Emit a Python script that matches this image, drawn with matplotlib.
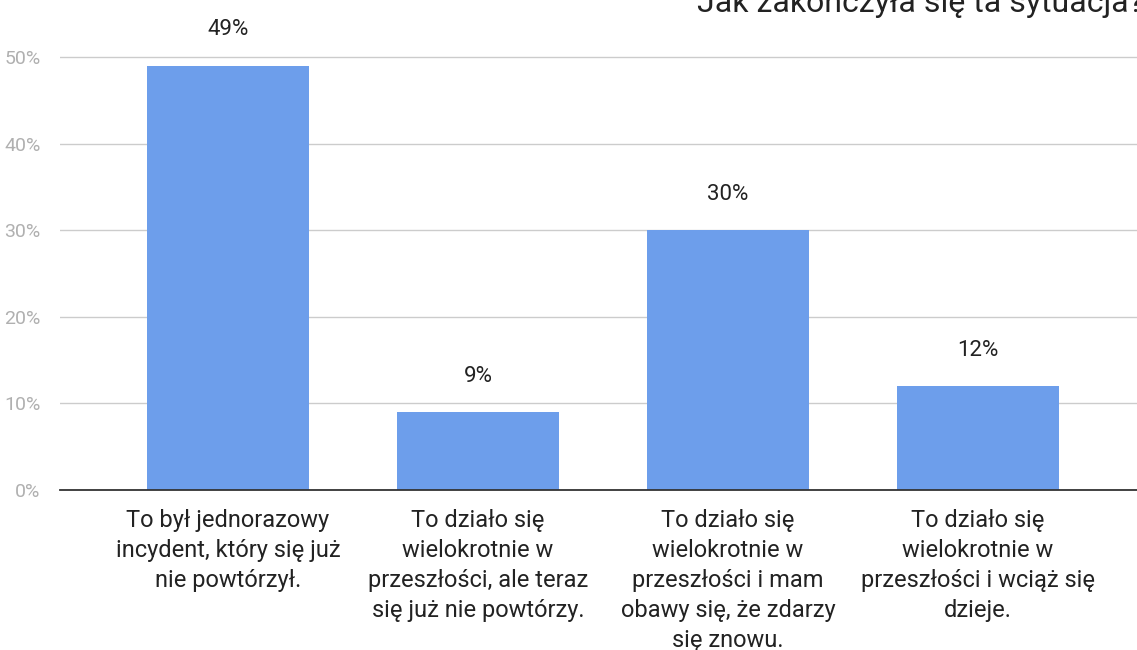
import matplotlib

matplotlib.use("Agg")
import matplotlib.pyplot as plt  # noqa: E402

plt.rcParams["font.family"] = ["Roboto", "DejaVu Sans"]

CATEGORIES = [
    "To był jednorazowy\nincydent, który się już\nnie powtórzył.",
    "To działo się\nwielokrotnie w\nprzeszłości, ale teraz\nsię już nie powtórzy.",
    "To działo się\nwielokrotnie w\nprzeszłości i mam\nobawy się, że zdarzy\nsię znowu.",
    "To działo się\nwielokrotnie w\nprzeszłości i wciąż się\ndzieje.",
]
VALUES = [49, 9, 30, 12]
Y_TICKS = [0, 10, 20, 30, 40, 50]
TITLE = "Jak zakończyła się ta sytuacja?"

BAR_COLOR = "#6d9eeb"

W, H = 1137, 650
fig = plt.figure(figsize=(W / 100, H / 100), dpi=100)
# axes: left at x=60, right at figure edge, baseline y=490, top y=0
ax = fig.add_axes([60 / W, (H - 490) / H, 1 - 60 / W, 490 / H])

xs = list(range(len(VALUES)))
ax.bar(xs, VALUES, width=0.65, color=BAR_COLOR, zorder=3)
for x, v in zip(xs, VALUES):
    ax.annotate(f"{v}%", (x, v), xytext=(0, 22), textcoords="offset points",
                ha="center", va="baseline", fontsize=16, color="#222222")

ax.set_xlim(-0.672, 3.636)
ax.set_ylim(0, 490 / 8.66)
ax.set_yticks(Y_TICKS)
ax.set_yticklabels([f"{t}%" for t in Y_TICKS], fontsize=14, color="#b0b0b0")
ax.tick_params(axis="y", length=0, pad=14)
ax.grid(axis="y", color="#cccccc", linewidth=1, zorder=0)
ax.set_xticks(xs)
ax.set_xticklabels(CATEGORIES, fontsize=17, color="#222222", linespacing=1.38)
ax.tick_params(axis="x", length=0, pad=14)
for side in ("top", "right", "left"):
    ax.spines[side].set_visible(False)
ax.spines["bottom"].set_color("#333333")
ax.spines["bottom"].set_linewidth(1.3)
ax.spines["bottom"].set_zorder(4)

fig.text(697 / W, 1 - 12 / H, TITLE, ha="left", va="baseline",
         fontsize=23, color="#222222")

fig.savefig("out.png", dpi=100)
